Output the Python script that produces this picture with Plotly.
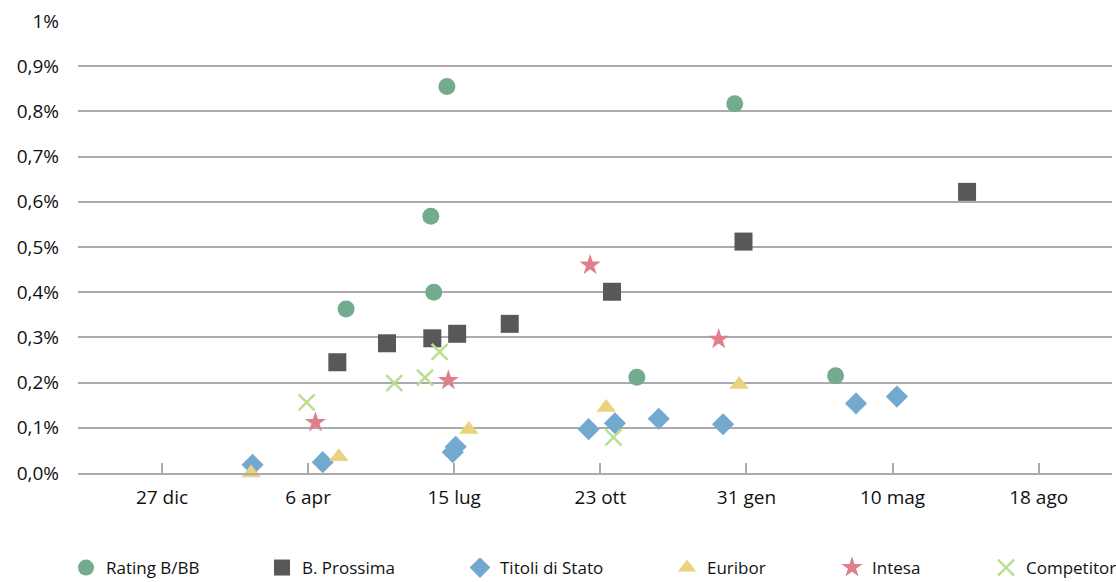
import plotly.graph_objects as go

# ---- data (y values in percent) ----
rating_dates = ["2015-05-02", "2015-07-10", "2015-06-29", "2015-07-01", "2015-11-17", "2016-01-23", "2016-04-01"]
rating_vals = [0.363, 0.855, 0.568, 0.400, 0.212, 0.817, 0.215]

prossima_dates = ["2015-04-26", "2015-05-30", "2015-06-30", "2015-07-17", "2015-08-22", "2015-10-31", "2016-01-29", "2016-06-30"]
prossima_vals = [0.245, 0.287, 0.298, 0.308, 0.330, 0.401, 0.512, 0.622]

titoli_dates = ["2015-02-27", "2015-04-16", "2015-07-14", "2015-07-16", "2015-10-15", "2015-11-02", "2015-12-02", "2016-01-15", "2016-04-15", "2016-05-13"]
titoli_vals = [0.018, 0.024, 0.046, 0.058, 0.097, 0.110, 0.120, 0.108, 0.154, 0.169]

euribor_dates = ["2015-02-26", "2015-04-27", "2015-07-25", "2015-10-27", "2016-01-26"]
euribor_vals = [0.000, 0.036, 0.096, 0.145, 0.196]

intesa_dates = ["2015-04-11", "2015-07-11", "2015-10-16", "2016-01-12"]
intesa_vals = [0.112, 0.205, 0.460, 0.296]

competitor_dates = ["2015-04-05", "2015-06-04", "2015-06-25", "2015-07-05", "2015-11-01"]
competitor_vals = [0.156, 0.199, 0.211, 0.268, 0.079]

x_tick_dates = ["2014-12-27", "2015-04-06", "2015-07-15", "2015-10-23", "2016-01-31", "2016-05-10", "2016-08-18"]
x_tick_labels = ["27 dic", "6 apr", "15 lug", "23 ott", "31 gen", "10 mag", "18 ago"]

y_tick_vals = [0.0, 0.1, 0.2, 0.3, 0.4, 0.5, 0.6, 0.7, 0.8, 0.9, 1.0]
y_tick_labels = ["0,0%", "0,1%", "0,2%", "0,3%", "0,4%", "0,5%", "0,6%", "0,7%", "0,8%", "0,9%", "1%"]

FONT = "Open Sans"
GRID = "#ABABAF"
TXT = "#111111"

series = [
    ("Rating B/BB", rating_dates, rating_vals, dict(symbol="circle", size=17, color="#72AB8E")),
    ("B. Prossima", prossima_dates, prossima_vals, dict(symbol="square", size=18, color="#58585A")),
    ("Titoli di Stato", titoli_dates, titoli_vals, dict(symbol="diamond", size=17, color="#74A9CF")),
    ("Euribor", euribor_dates, euribor_vals, dict(symbol="triangle-up", size=17, color="#EBD27E")),
    ("Intesa", intesa_dates, intesa_vals, dict(symbol="star", size=16, color="#DF7F8C")),
    ("Competitor", competitor_dates, competitor_vals,
     dict(symbol="x-thin", size=16, color="#B9DF8F", line=dict(color="#B9DF8F", width=2.5))),
]

legend_x_px = [87, 283, 481, 688, 853, 1007]  # symbol centres (pixels)
PLOT_L, PLOT_W, PLOT_B, PLOT_H = 78, 1034, 473, 452
LEGEND_Y_PX = 568

fig = go.Figure()
layout_legends = {}
for i, (name, xs, ys, mk) in enumerate(series):
    lg = "legend" if i == 0 else f"legend{i+1}"
    fig.add_trace(go.Scatter(x=xs, y=ys, mode="markers", name=name, marker=mk,
                             cliponaxis=False, legend=lg))
    layout_legends[lg] = dict(
        x=(legend_x_px[i] - 21 - PLOT_L) / PLOT_W, xanchor="left",
        y=-(LEGEND_Y_PX - PLOT_B) / PLOT_H, yanchor="middle",
        orientation="h", bgcolor="rgba(0,0,0,0)",
        font=dict(family=FONT, size=17, color=TXT),
    )

fig.update_layout(
    width=1116, height=582,
    margin=dict(l=78, r=4, t=21, b=109, autoexpand=False),
    plot_bgcolor="white", paper_bgcolor="white",
    font=dict(family=FONT, size=19, color=TXT),
    showlegend=True,
    **layout_legends,
)

fig.update_xaxes(
    type="date",
    range=["2014-10-30 12:00", "2016-10-07 05:00"],
    tickmode="array", tickvals=x_tick_dates, ticktext=x_tick_labels,
    ticks="inside", ticklen=10, tickwidth=2, tickcolor=GRID,
    showline=True, linecolor=GRID, linewidth=2,
    showgrid=False, zeroline=False,
    ticklabelstandoff=6,
    tickfont=dict(family=FONT, size=19, color=TXT),
)
fig.update_yaxes(
    range=[0, 1.0], tickmode="array", tickvals=y_tick_vals, ticktext=y_tick_labels,
    showgrid=True, gridcolor=GRID, gridwidth=2,
    zeroline=False, showline=False, ticks="",
    ticklabelstandoff=18,
    tickfont=dict(family=FONT, size=19, color=TXT),
)

fig.write_html("out.html")
